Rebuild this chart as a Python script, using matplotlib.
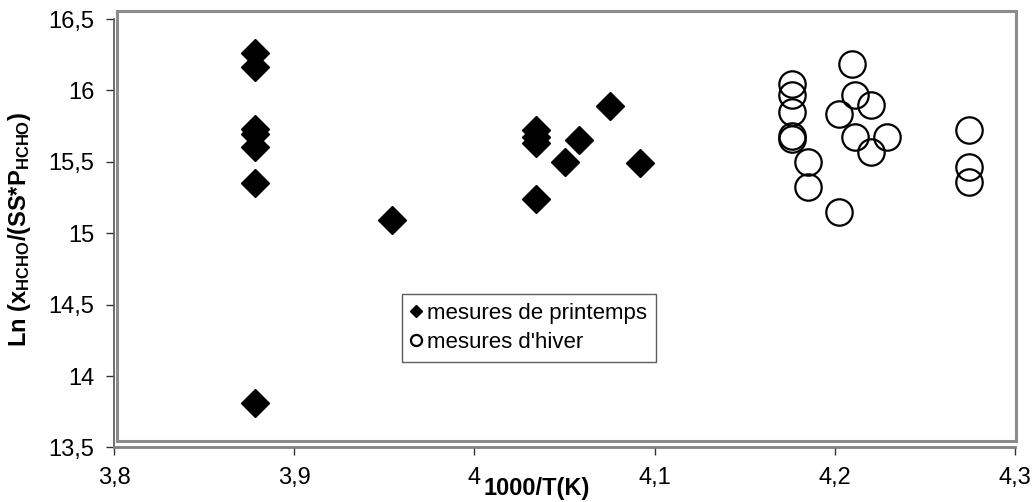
import matplotlib
matplotlib.use("Agg")
import matplotlib.pyplot as plt
from matplotlib.patches import Rectangle
from matplotlib.ticker import FuncFormatter

plt.rcParams['font.family'] = ['Liberation Sans', 'DejaVu Sans']
plt.rcParams['mathtext.fontset'] = 'custom'
plt.rcParams['mathtext.rm'] = 'Liberation Sans'
plt.rcParams['mathtext.bf'] = 'Liberation Sans:bold'
plt.rcParams['mathtext.it'] = 'Liberation Sans:italic'

# Data
spring_x = [3.878, 3.878, 3.878, 3.878, 3.878, 3.878, 3.878,
            3.954, 4.034, 4.034, 4.034, 4.034, 4.058, 4.050, 4.075, 4.092]
spring_y = [16.26, 16.16, 15.73, 15.69, 15.60, 15.35, 13.81,
            15.09, 15.72, 15.67, 15.63, 15.24, 15.65, 15.50, 15.89, 15.49]

winter_x = [4.2095, 4.176, 4.176, 4.176, 4.176, 4.176, 4.185, 4.185,
            4.2025, 4.2025, 4.2113, 4.2203, 4.2113, 4.2203, 4.2292,
            4.2745, 4.2745, 4.2745]
winter_y = [16.185, 16.045, 15.968, 15.847, 15.676, 15.655, 15.50, 15.32,
            15.15, 15.835, 15.968, 15.893, 15.669, 15.567, 15.672,
            15.723, 15.46, 15.354]

xticks = [3.8, 3.9, 4.0, 4.1, 4.2, 4.3]
yticks = [13.5, 14, 14.5, 15, 15.5, 16, 16.5]
legend_labels = ["mesures de printemps", "mesures d'hiver"]
xlabel = "1000/T(K)"
ylabel = r"Ln (x$_{\mathbf{HCHO}}$/(SS*P$_{\mathbf{HCHO}}$)"

W, H = 1036, 502
fig = plt.figure(figsize=(W / 100, (H + 0.4) / 100), dpi=100)
ax_l, ax_r, ax_t, ax_b = 114, 1015, 19, 447.5
ax = fig.add_axes([ax_l / W, 1 - ax_b / H, (ax_r - ax_l) / W, (ax_b - ax_t) / H])

ax.plot(spring_x, spring_y, linestyle='none', marker='D', markersize=14.5,
        color='black', label=legend_labels[0], clip_on=False, zorder=3)
ax.plot(winter_x, winter_y, linestyle='none', marker='o', markersize=19,
        markerfacecolor='none', markeredgecolor='black', markeredgewidth=1.6,
        label=legend_labels[1], clip_on=False, zorder=3)

ax.set_xlim(3.8, 4.3)
ax.set_ylim(13.5, 16.5)
ax.set_xticks(xticks)
ax.set_yticks(yticks)

def fmt(v, pos):
    return ('%g' % v).replace('.', ',')

ax.xaxis.set_major_formatter(FuncFormatter(fmt))
ax.yaxis.set_major_formatter(FuncFormatter(fmt))
ax.tick_params(axis='both', direction='out', length=6, width=1, colors='#333333',
               labelsize=17, labelcolor='black')
ax.tick_params(axis='x', pad=8)
ax.tick_params(axis='y', pad=8)

for s in ['top', 'right']:
    ax.spines[s].set_visible(False)
ax.spines['left'].set_color('#555555')
ax.spines['left'].set_linewidth(1.2)
ax.spines['bottom'].set_color('#808080')
ax.spines['bottom'].set_linewidth(2)
ax.patch.set_alpha(0)

# plot-area frame (Excel style), in axes coordinates
pxw = ax_r - ax_l
pxh = ax_b - ax_t
fx0 = (117 - ax_l) / pxw
fx1 = (1016 - ax_l) / pxw
fy0 = (ax_b - 441) / pxh
fy1 = (ax_b - 11) / pxh
frame = Rectangle((fx0, fy0), fx1 - fx0, fy1 - fy0, transform=ax.transAxes,
                  fill=False, edgecolor='#8c8c8c', linewidth=2.2, zorder=0,
                  clip_on=False)
ax.add_artist(frame)

fig.text(537 / W, 1 - 488 / H, xlabel, ha='center', va='center',
         fontsize=17, fontweight='bold')
fig.text(20 / W, 1 - 229 / H, ylabel, ha='center', va='center',
         fontsize=17, fontweight='bold', rotation=90)

leg = ax.legend(loc='upper left', bbox_to_anchor=(401.7 / W, 1 - 294.3 / H),
                bbox_transform=fig.transFigure, borderaxespad=0,
                fontsize=16, frameon=True, fancybox=False, markerscale=0.42,
                handlelength=0.5, handletextpad=0.25, borderpad=0.4,
                labelspacing=0.35, edgecolor='#333333')
leg.get_frame().set_linewidth(1.0)

fig.savefig('out.png', dpi=100)
